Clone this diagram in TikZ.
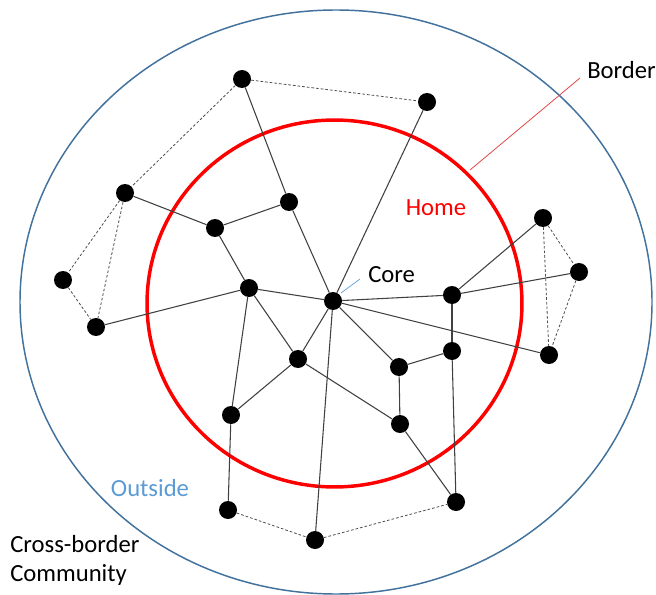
\documentclass[tikz,border=0pt]{standalone}
\usepackage{fontspec}
\setmainfont{Carlito}
\begin{document}
\begin{tikzpicture}[x=0.75pt,y=-0.75pt,
  dot/.style={circle,fill=black,inner sep=0pt,minimum size=13.5pt},
  edge/.style={draw=black!75,line width=0.8pt},
  dedge/.style={draw=black!70,line width=0.6pt,dash pattern=on 2pt off 1.5pt},
  lbl/.style={font=\fontsize{18.5}{22}\selectfont,inner sep=0pt}]
\useasboundingbox (0,0) rectangle (656,595);
\definecolor{outerblue}{HTML}{41719C}
\definecolor{lightblue}{HTML}{5B9BD5}
\definecolor{borderred}{HTML}{E04848}
\coordinate (oc) at (336,302);
\coordinate (rc) at (334.5,303.5);
\draw[outerblue,line width=1.1pt] (oc) ellipse [x radius=237pt, y radius=219pt];
\draw[red,line width=2.6pt] (rc) ellipse [x radius=140.6pt, y radius=137.6pt];
% nodes
\node[dot] (n1) at (242,79) {};
\node[dot] (n2) at (427,102) {};
\node[dot] (n3) at (125,193) {};
\node[dot] (n4) at (289,202) {};
\node[dot] (n5) at (215,228) {};
\node[dot] (n6) at (543,218) {};
\node[dot] (n7) at (579,272) {};
\node[dot] (n8) at (63,280) {};
\node[dot] (n9) at (249,288) {};
\node[dot] (core) at (333,301) {};
\node[dot] (n11) at (452,295) {};
\node[dot] (n12) at (96,327) {};
\node[dot] (n13) at (452,351) {};
\node[dot] (n14) at (549,355) {};
\node[dot] (n15) at (298,359) {};
\node[dot] (n16) at (399,367) {};
\node[dot] (n17) at (231,415) {};
\node[dot] (n18) at (400,424) {};
\node[dot] (n19) at (456,502) {};
\node[dot] (n20) at (228,510) {};
\node[dot] (n21) at (315,540) {};
% solid edges
\path[edge] (n1) -- (n4);
\path[edge] (n4) -- (n5);
\path[edge] (n3) -- (n5);
\path[edge] (n5) -- (n9);
\path[edge] (n9) -- (core);
\path[edge] (n2) -- (core);
\path[edge] (n4) -- (core);
\path[edge] (n12) -- (n9);
\path[edge] (n9) -- (n15);
\path[edge] (n9) -- (n17);
\path[edge] (core) -- (n15);
\path[edge] (core) -- (n11);
\path[edge] (core) -- (n14);
\path[edge] (core) -- (n16);
\path[edge] (core) -- (n21);
\path[edge] (n11) -- (n6);
\path[edge] (n11) -- (n7);
\path[edge] (n11) -- (n13);
\path[edge] (n13) -- (n16);
\path[edge] (n13) -- (n19);
\path[edge] (n16) -- (n18);
\path[edge] (n15) -- (n18);
\path[edge] (n18) -- (n19);
\path[edge] (n15) -- (n17);
\path[edge] (n17) -- (n20);
% dashed edges
\path[dedge] (n1) -- (n2);
\path[dedge] (n1) -- (n3);
\path[dedge] (n3) -- (n8);
\path[dedge] (n3) -- (n12);
\path[dedge] (n8) -- (n12);
\path[dedge] (n6) -- (n7);
\path[dedge] (n6) -- (n14);
\path[dedge] (n7) -- (n14);
\path[dedge] (n20) -- (n21);
\path[dedge] (n21) -- (n19);
% labels
\node[lbl,anchor=west] (corelbl) at (368,275) {Core};
\coordinate (coreptA) at (341,293);
\coordinate (coreptB) at (360,279);
\draw[lightblue,line width=0.5pt] (coreptA) -- (coreptB);
\node[lbl,anchor=west] (borderlbl) at (587,70) {Border};
\coordinate (bA) at (580,78);
\coordinate (bB) at (470,170);
\draw[borderred,line width=0.6pt] (bA) -- (bB);
\node[lbl,text=red] (home) at (436,208) {Home};
\node[lbl,text=lightblue] (outside) at (150,488) {Outside};
\node[lbl,anchor=north west,align=left,font=\fontsize{18.5}{21.5}\selectfont] (cbc) at (10,535) {Cross-border\\Community};
\end{tikzpicture}
\end{document}
